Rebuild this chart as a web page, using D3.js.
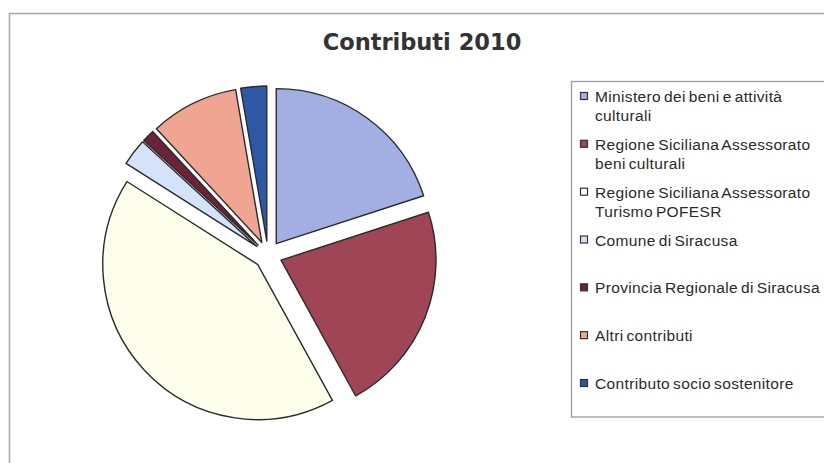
<!DOCTYPE html>
<html>
<head>
<meta charset="utf-8">
<script src="https://cdn.jsdelivr.net/npm/d3@7"></script>
<style>
  html, body { margin: 0; padding: 0; background: #fff; }
  svg { display: block; }
  .title { font-family: "DejaVu Sans", Verdana, sans-serif; font-weight: bold; font-size: 22.5px; fill: #333; }
  .leg { font-family: "Liberation Sans", Arial, sans-serif; font-size: 15.5px; fill: #2a2a2a; letter-spacing: 0.35px; word-spacing: -1.6px; }
</style>
</head>
<body>
<div id="chart"></div>
<script>
(() => {
  "use strict";

  // Contributi 2010 — shares (percent)
  const categories = [
    "Ministero dei beni e attività culturali",
    "Regione Siciliana Assessorato beni culturali",
    "Regione Siciliana Assessorato Turismo POFESR",
    "Comune di Siracusa",
    "Provincia Regionale di Siracusa",
    "Altri contributi",
    "Contributo socio sostenitore",
  ];
  const values = [20, 22, 42, 2.8, 1.3, 9.2, 2.7];
  // legend lines as they wrap in the original
  const legendLines = [
    ["Ministero dei beni e attività", "culturali"],
    ["Regione Siciliana Assessorato", "beni culturali"],
    ["Regione Siciliana Assessorato", "Turismo POFESR"],
    ["Comune di Siracusa"],
    ["Provincia Regionale di Siracusa"],
    ["Altri contributi"],
    ["Contributo socio sostenitore"],
  ];
  const colors = ["#a3aee2", "#9f4555", "#fefeec", "#d4e2fa", "#6c2238", "#f0a592", "#2d58a6"];

  const width = 824;
  const height = 463;
  const cx = 268, cy = 255, radius = 155, explode = 14;

  const svg = d3.select("#chart").append("svg")
    .attr("width", width)
    .attr("height", height);

  // outer chart frame (runs off the right and bottom of the crop)
  svg.append("rect")
    .attr("x", 9.5).attr("y", 13.5)
    .attr("width", width + 20).attr("height", height + 20)
    .attr("fill", "#fff")
    .attr("stroke", "#a8a8ae")
    .attr("stroke-width", 1.6);

  svg.append("text")
    .attr("class", "title")
    .attr("x", 422).attr("y", 50)
    .attr("text-anchor", "middle")
    .text("Contributi 2010");

  const color = d3.scaleOrdinal().domain(categories).range(colors);

  const pie = d3.pie().sort(null).value((d, i) => values[i]);
  const arcs = pie(categories);
  const arc = d3.arc().innerRadius(0).outerRadius(radius);

  const g = svg.append("g").attr("transform", `translate(${cx},${cy})`);
  g.selectAll("path")
    .data(arcs)
    .join("path")
    .attr("transform", (d) => {
      const a = (d.startAngle + d.endAngle) / 2;
      return `translate(${Math.sin(a) * explode},${-Math.cos(a) * explode})`;
    })
    .attr("d", arc)
    .attr("fill", (d) => color(d.data))
    .attr("stroke", "#2b2b2b")
    .attr("stroke-width", 1.4)
    .attr("stroke-linejoin", "round");

  // legend box
  svg.append("rect")
    .attr("x", 571.5).attr("y", 81.5)
    .attr("width", 300).attr("height", 335.5)
    .attr("fill", "#fff")
    .attr("stroke", "#9a9aa0")
    .attr("stroke-width", 1.3);

  const rowY = d3.scalePoint().domain(categories).range([102, 389]);

  const items = svg.selectAll("g.item")
    .data(categories)
    .join("g")
    .attr("class", "item")
    .attr("transform", (d) => `translate(0,${rowY(d)})`);

  items.append("rect")
    .attr("x", 580.5).attr("y", -9.5)
    .attr("width", 7).attr("height", 7)
    .attr("fill", (d) => color(d))
    .attr("stroke", "#333")
    .attr("stroke-width", 1.2);

  items.each(function (d, i) {
    d3.select(this).selectAll("text")
      .data(legendLines[i])
      .join("text")
      .attr("class", "leg")
      .attr("x", 595)
      .attr("y", (t, j) => j * 19)
      .text((t) => t);
  });
})();
</script>
</body>
</html>
